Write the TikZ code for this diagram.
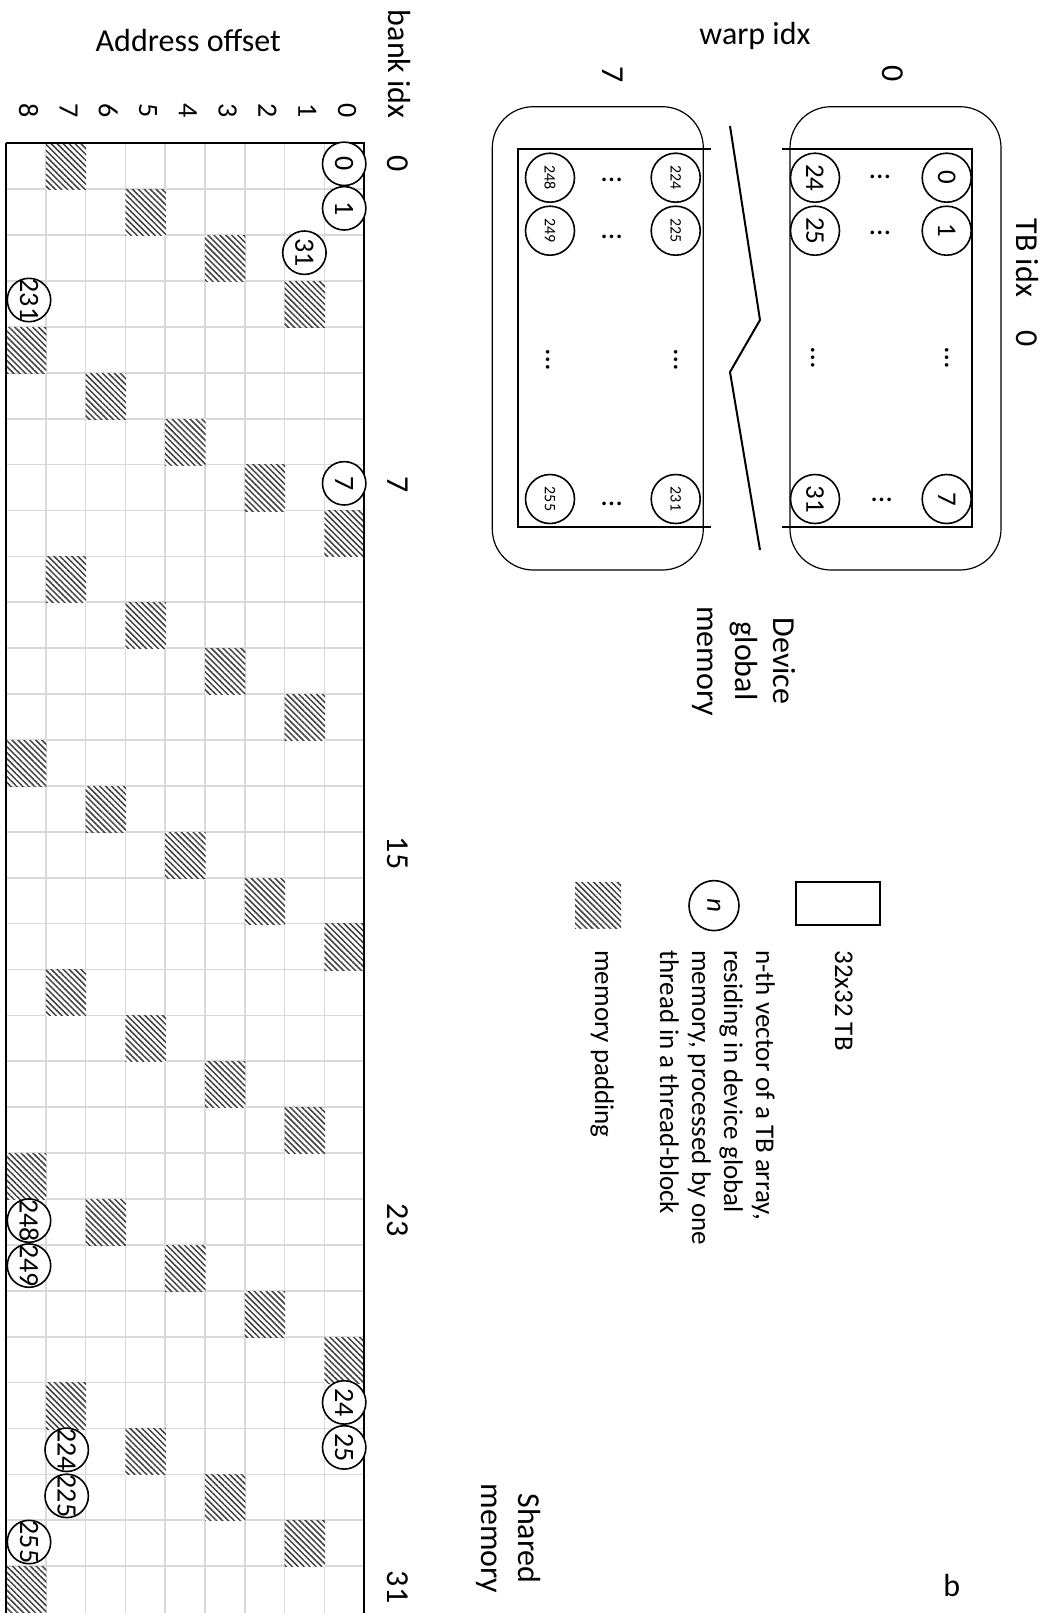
\documentclass[tikz,border=0pt]{standalone}
\usepackage{fontspec}
\setmainfont{Carlito}
\usetikzlibrary{patterns.meta}
\begin{document}
\begin{tikzpicture}[x=0.5pt,y=-0.5pt,
  every node/.style={inner sep=0pt},
  big/.style={font=\fontsize{16}{19.5}\selectfont},
  mid/.style={font=\fontsize{14}{17}\selectfont},
  small/.style={font=\fontsize{13.5}{16}\selectfont},
  leg/.style={font=\fontsize{13.5}{16}\selectfont},
  tiny/.style={font=\fontsize{8}{10}\selectfont},
  dotsf/.style={font=\fontsize{15}{18}\selectfont},
  rot/.style={rotate=-90},
  gridline/.style={draw=black!15, line width=0.85pt},
  hatch/.style={preaction={fill=white}, pattern={Lines[angle=-45,distance=2.1pt,line width=0.75pt]}, pattern color=black!75},
  gcirc/.style={circle, draw, fill=white, line width=0.8pt, minimum size=21.7pt, font=\fontsize{14}{17}\selectfont, rot},
  pcirc/.style={circle, draw, fill=white, line width=0.8pt, minimum size=24.5pt, rot},
  warpbox/.style={draw, line width=0.6pt, rounded corners=20.5pt},
  tbline/.style={draw, line width=1pt},
]
\useasboundingbox (0,0) rectangle (1052,1613);

% ---------------- shared memory grid ----------------
\foreach \i in {1,...,8} \draw[gridline] ({6+39.8*\i},143.3) -- ({6+39.8*\i},1613);
\foreach \r in {1,...,31} \draw[gridline] (6,{143.3+45.9*\r}) -- (364,{143.3+45.9*\r});
\foreach \r in {0,...,31}{
  \pgfmathsetmacro{\xl}{364-39.8*(mod(70-2*\r,9)+1)}
  \pgfmathsetmacro{\yt}{143.3+45.9*\r}
  \path[hatch] ({\xl+0.2},{\yt+0.3}) rectangle ({\xl+40.6},{\yt+46.4});
}
\draw[line width=1pt] (6,143.3) -- (364,143.3) -- (364,1613);
\draw[line width=1.25pt] (6,143.3) -- (6,1613);

% circles in the grid
\node[gcirc] (g0)   at (344.2,163.8)  {\makebox[0pt]{0}};
\node[gcirc] (g1)   at (344.2,208.3)  {\makebox[0pt]{1}};
\node[gcirc] (g31)  at (304.4,252.7)  {\makebox[0pt]{31}};
\node[gcirc] (g231) at (29,300)       {\makebox[0pt]{231}};
\node[gcirc] (g7)   at (344.2,483.3)  {\makebox[0pt]{7}};
\node[gcirc] (g248) at (29,1220.6)    {\makebox[0pt]{248}};
\node[gcirc] (g249) at (29,1265.6)    {\makebox[0pt]{249}};
\node[gcirc] (g24)  at (344.2,1402.4) {\makebox[0pt]{24}};
\node[gcirc] (g25)  at (344.2,1447.4) {\makebox[0pt]{25}};
\node[gcirc] (g224) at (66.7,1449.8)  {\makebox[0pt]{224}};
\node[gcirc] (g225) at (66.7,1495.9)  {\makebox[0pt]{225}};
\node[gcirc] (g255) at (29,1542)      {\makebox[0pt]{255}};

% axis labels of the grid
\node[big,anchor=base] (addroff) at (188.3,51.8) {Address offset};
\node[big,rot,anchor=base] (bankidx) at (388.3,64.3) {bank idx};
\foreach \k in {0,...,8} \node[mid,rot] (ao\k) at ({364-39.8*(\k+0.5)+3},110.8) {\k};
\node[big,rot,anchor=base] (bk0)  at (387.3,164)  {0};
\node[big,rot,anchor=base] (bk7)  at (387.3,485)  {7};
\node[big,rot,anchor=base] (bk15) at (387.3,853)  {15};
\node[big,rot,anchor=base] (bk23) at (387.3,1220) {23};
\node[big,rot,anchor=base] (bk31) at (387.3,1587) {31};

% ---------------- device global memory ----------------
\draw[warpbox] (492.3,106.7) rectangle (703.3,570);
\draw[warpbox] (790,106.7) rectangle (1001,570);
\draw[tbline] (710.7,149.3) -- (518.3,149.3) -- (518.3,527.3) -- (710.7,527.3);
\draw[tbline] (782.3,149.3) -- (971.7,149.3) -- (971.7,527.3) -- (782.3,527.3);
\draw[line width=1pt] (730,126) -- (760,320) -- (730,372) -- (760,550);

\node[pcirc,tiny]  (p248) at (550,177.7)   {248};
\node[pcirc,tiny]  (p224) at (675.7,177.7) {224};
\node[pcirc,tiny]  (p249) at (550,230.7)   {249};
\node[pcirc,tiny]  (p225) at (675.7,230.7) {225};
\node[pcirc,tiny]  (p255) at (550,499)     {255};
\node[pcirc,tiny]  (p231) at (675.7,499)   {231};
\node[pcirc,small] (p24)  at (815,177.7)   {24};
\node[pcirc,small] (p0)   at (946.7,177.7) {0};
\node[pcirc,small] (p25)  at (815,230.7)   {25};
\node[pcirc,small] (p1)   at (946.7,230.7) {1};
\node[pcirc,small] (p31)  at (815,499)     {31};
\node[pcirc,small] (p7)   at (946.7,499)   {7};

\node[dotsf] (d1) at (611.7,180)   {\textellipsis};
\node[dotsf] (d2) at (611.7,236.7) {\textellipsis};
\node[dotsf] (d3) at (611.7,504)   {\textellipsis};
\node[dotsf] (d4) at (880,177)     {\textellipsis};
\node[dotsf] (d5) at (880,233)     {\textellipsis};
\node[dotsf] (d6) at (881.7,500)   {\textellipsis};
\node[dotsf,rot] (v1) at (548.3,360) {\textellipsis};
\node[dotsf,rot] (v2) at (676,360)   {\textellipsis};
\node[dotsf,rot] (v3) at (813.3,358) {\textellipsis};
\node[dotsf,rot] (v4) at (946.7,358) {\textellipsis};

\node[big,anchor=base] (warpidx) at (755,44) {warp idx};
\node[big,rot] (w7) at (612.3,74.5) {7};
\node[big,rot] (w0) at (893,74) {0};
\node[big,rot,anchor=base] (tbidx) at (1016,283) {TB idx\hspace{17pt}0};

\node[big,rot,anchor=base] (dgm1) at (773,661) {Device};
\node[big,rot,anchor=base] (dgm2) at (735,661) {global};
\node[big,rot,anchor=base] (dgm3) at (697,661) {memory};

% ---------------- legend ----------------
\node[draw, line width=1pt, minimum width=42pt, minimum height=21.75pt] (legbox) at (838,903.4) {};
\node[leg,rot,anchor=base west] (legtb) at (835,950) {32x32 TB};
\node[circle, draw, fill=white, line width=0.8pt, minimum size=25pt, leg, rot] (legn) at (714,905.6) {\textit{n}};
\node[leg,rot,anchor=base west] (legl1) at (756,950) {n-th vector of a TB array,};
\node[leg,rot,anchor=base west] (legl2) at (724,950) {residing in device global};
\node[leg,rot,anchor=base west] (legl3) at (692,950) {memory, processed by one};
\node[leg,rot,anchor=base west] (legl4) at (660,950) {thread in a thread-block};
\path[hatch] (575,882.8) rectangle (621,928);
\node[leg,rot,anchor=base west] (legpad) at (595,950) {memory padding};

% ---------------- other labels ----------------
\node[big,rot,anchor=base] (sm1) at (518.3,1538.5) {Shared};
\node[big,rot,anchor=base] (sm2) at (481,1538.5) {memory};
\node[big,anchor=base] (subb) at (951.7,1596.7) {b};
\end{tikzpicture}
\end{document}
